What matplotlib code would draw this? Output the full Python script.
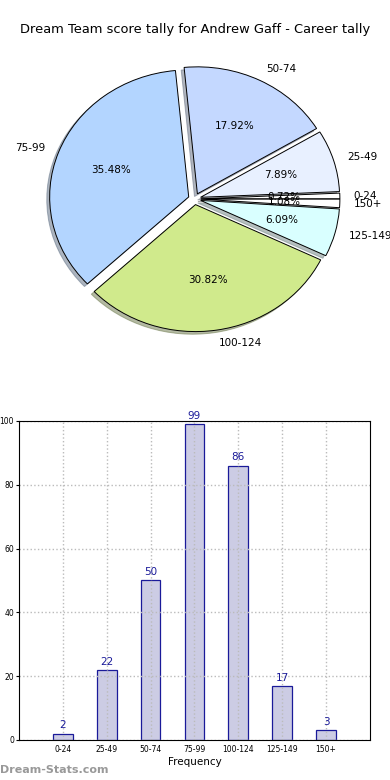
import numpy as np
import matplotlib
matplotlib.use("Agg")
import matplotlib.pyplot as plt

# --- Data ---
bands = ["0-24", "25-49", "50-74", "75-99", "100-124", "125-149", "150+"]
counts = [2, 22, 50, 99, 86, 17, 3]
slice_colors = ["#ffffff", "#e8f0ff", "#c4d8ff", "#b3d5ff", "#d0ea8c", "#d9ffff", "#ffffff"]

title = "Dream Team score tally for Andrew Gaff - Career tally"

fig = plt.figure(figsize=(3.9, 7.8), dpi=100)

# --- Pie (not equal aspect, like the original) ---
ax1 = fig.add_axes([0.0354, 0.5333, 0.927, 0.4233])
wedges, texts, autotexts = ax1.pie(
    counts,
    labels=bands,
    colors=slice_colors,
    explode=[0.045] * len(counts),
    startangle=0,
    autopct="%1.2f%%",
    shadow=dict(shade=0.5, ox=-0.015, oy=-0.015),
    wedgeprops=dict(edgecolor="black", linewidth=0.7),
    textprops=dict(fontsize=7.5),
)
ax1.set_aspect("auto")
ax1.set_xlim(-1.3, 1.3)
ax1.set_ylim(-1.3, 1.3)
ax1.axis("off")

fig.text(0.5, 1 - 30 / 780, title, ha="center", va="center", fontsize=9.4)

# --- Bars ---
ax2 = fig.add_axes([0.0487, 0.0513, 0.9, 0.409])
x = np.arange(len(bands))
ax2.bar(x, counts, width=0.45, color="#ccccE4", edgecolor="#1a1a99", linewidth=0.9)
for xi, c in zip(x, counts):
    ax2.text(xi, c + 1, str(c), ha="center", va="bottom", fontsize=7.5, color="#1a1a99")
ax2.set_xlim(-1, 7)
ax2.set_ylim(0, 100)
ax2.set_xticks(x)
ax2.set_xticklabels(bands, fontsize=5.5)
ax2.set_yticks(range(0, 101, 20))
ax2.tick_params(axis="y", labelsize=5.5, length=2, pad=1.5)
ax2.tick_params(axis="x", length=0)
ax2.grid(True, linestyle=":", color="#bbbbbb", linewidth=1)
ax2.set_xlabel("Frequency", fontsize=7.5, labelpad=2)

fig.text(0.0, 1 - 770 / 780, "Dream-Stats.com", ha="left", va="center",
         fontsize=8, color="#999999", fontweight="bold")

fig.savefig("out.png", dpi=100)
